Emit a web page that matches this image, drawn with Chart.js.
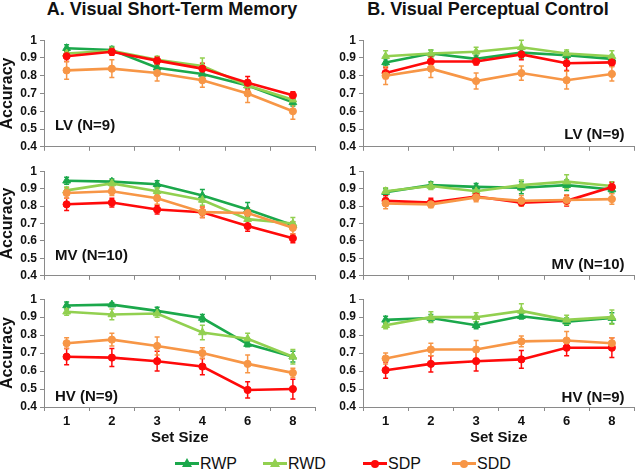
<!DOCTYPE html>
<html><head><meta charset="utf-8">
<script src="https://cdn.jsdelivr.net/npm/chart.js@4/dist/chart.umd.min.js"></script>
<style>
body{margin:0;width:640px;height:476px;background:#fff;position:relative;overflow:hidden;font-family:"Liberation Sans",Arial,sans-serif;color:#111;}
.title{position:absolute;top:-1px;font-weight:bold;font-size:18px;line-height:20px;white-space:nowrap;transform:translateX(-50%);}
canvas{position:absolute;}
.lg{position:absolute;top:454px;height:20px;font-size:16px;line-height:20px;white-space:nowrap;}
.lg .ln{position:absolute;left:0;top:8px;width:24px;height:3px;}
.lg .mk{position:absolute;}
.lg .tx{position:absolute;left:25px;top:0;}
</style></head>
<body>
<div class="title" style="left:172px">A. Visual Short-Term Memory</div>
<div class="title" style="left:488px">B. Visual Perceptual Control</div>
<canvas id="c1"></canvas><canvas id="c2"></canvas><canvas id="c3"></canvas>
<canvas id="c4"></canvas><canvas id="c5"></canvas><canvas id="c6"></canvas>
<div id="legend"></div>
<script>
// ---- data ----
const setSizes = ['1','2','3','4','6','8'];
const seriesNames = ['RWP','RWD','SDP','SDD'];
const panelLabels = ['LV (N=9)','MV (N=10)','HV (N=9)'];
const yTicks = [0.4,0.5,0.6,0.7,0.8,0.9,1];

// A. Visual Short-Term Memory
const stmLV_RWP = [0.955,0.945,0.845,0.81,0.745,0.65];
const stmLV_RWD = [0.925,0.94,0.89,0.855,0.745,0.665];
const stmLV_SDP = [0.91,0.935,0.885,0.84,0.76,0.69];
const stmLV_SDD = [0.83,0.84,0.815,0.775,0.70,0.60];
const stmMV_RWP = [0.945,0.94,0.925,0.86,0.78,0.69];
const stmMV_RWD = [0.89,0.93,0.885,0.835,0.725,0.70];
const stmMV_SDP = [0.81,0.82,0.78,0.765,0.685,0.615];
const stmMV_SDD = [0.875,0.885,0.845,0.765,0.76,0.675];
const stmHV_RWP = [0.965,0.97,0.935,0.895,0.75,0.68];
const stmHV_RWD = [0.93,0.915,0.92,0.815,0.78,0.68];
const stmHV_SDP = [0.68,0.675,0.655,0.625,0.495,0.50];
const stmHV_SDD = [0.755,0.775,0.74,0.70,0.64,0.59];
// B. Visual Perceptual Control
const pcLV_RWP = [0.875,0.925,0.895,0.93,0.915,0.895];
const pcLV_RWD = [0.91,0.925,0.935,0.96,0.925,0.91];
const pcLV_SDP = [0.815,0.88,0.88,0.92,0.87,0.875];
const pcLV_SDD = [0.80,0.84,0.77,0.815,0.775,0.81];
const pcMV_RWP = [0.88,0.92,0.91,0.905,0.92,0.895];
const pcMV_RWD = [0.885,0.915,0.885,0.92,0.94,0.915];
const pcMV_SDP = [0.83,0.82,0.855,0.82,0.83,0.91];
const pcMV_SDD = [0.815,0.81,0.85,0.83,0.835,0.84];
const pcHV_RWP = [0.885,0.895,0.855,0.905,0.875,0.895];
const pcHV_RWD = [0.855,0.90,0.90,0.935,0.885,0.90];
const pcHV_SDP = [0.605,0.64,0.655,0.665,0.73,0.73];
const pcHV_SDD = [0.67,0.72,0.72,0.765,0.77,0.755];

// error bar half-lengths
const errStmLV_RWP=[0.02,0.02,0.02,0.02,0.03,0.02], errStmLV_RWD=[0.02,0.02,0.02,0.045,0.03,0.03], errStmLV_SDP=[0.03,0.02,0.02,0.03,0.035,0.02], errStmLV_SDD=[0.05,0.05,0.045,0.04,0.05,0.045];
const errStmMV_RWP=[0.02,0.015,0.02,0.035,0.04,0.02], errStmMV_RWD=[0.02,0.02,0.02,0.03,0.03,0.035], errStmMV_SDP=[0.035,0.025,0.025,0.03,0.03,0.025], errStmMV_SDD=[0.03,0.025,0.035,0.03,0.03,0.035];
const errStmHV_RWP=[0.02,0.01,0.02,0.02,0.015,0.03], errStmHV_RWD=[0.02,0.03,0.02,0.04,0.03,0.04], errStmHV_SDP=[0.045,0.05,0.055,0.045,0.045,0.055], errStmHV_SDD=[0.03,0.035,0.05,0.03,0.05,0.025];
const errPcLV_RWP=[0.02,0.02,0.02,0.03,0.02,0.02], errPcLV_RWD=[0.03,0.02,0.025,0.04,0.02,0.03], errPcLV_SDP=[0.03,0.03,0.02,0.03,0.04,0.02], errPcLV_SDD=[0.05,0.05,0.045,0.04,0.05,0.04];
const errPcMV_RWP=[0.02,0.02,0.02,0.035,0.03,0.02], errPcMV_RWD=[0.02,0.02,0.02,0.03,0.04,0.025], errPcMV_SDP=[0.03,0.025,0.02,0.02,0.03,0.025], errPcMV_SDD=[0.03,0.02,0.025,0.03,0.03,0.03];
const errPcHV_RWP=[0.02,0.02,0.02,0.015,0.02,0.03], errPcHV_RWD=[0.02,0.03,0.025,0.04,0.025,0.04], errPcHV_SDP=[0.045,0.045,0.055,0.05,0.045,0.055], errPcHV_SDD=[0.03,0.035,0.05,0.03,0.05,0.03];

// ---- styles ----
const colors = {RWP:'#1BA84B', RWD:'#92D050', SDP:'#FF0A0A', SDD:'#F79646'};
const markers = {RWP:'triangle', RWD:'triangle', SDP:'circle', SDD:'circle'};
const drawOrder = {RWP:4, RWD:3, SDP:2, SDD:1};

const errorBars = {
  id:'errorBars',
  beforeDatasetsDraw(chart){
    const ctx = chart.ctx, y = chart.scales.y;
    chart.data.datasets.forEach((ds,i)=>{
      const meta = chart.getDatasetMeta(i);
      ctx.save();
      ctx.strokeStyle = ds.borderColor; ctx.lineWidth = 1.5;
      meta.data.forEach((pt,j)=>{
        const e = ds.err[j], v = ds.data[j];
        const y1 = y.getPixelForValue(v+e), y2 = y.getPixelForValue(v-e);
        ctx.beginPath();
        ctx.moveTo(pt.x,y1); ctx.lineTo(pt.x,y2);
        ctx.moveTo(pt.x-2.5,y1); ctx.lineTo(pt.x+2.5,y1);
        ctx.moveTo(pt.x-2.5,y2); ctx.lineTo(pt.x+2.5,y2);
        ctx.stroke();
      });
      ctx.restore();
    });
  }
};
const panelText = {
  id:'panelText',
  afterDatasetsDraw(chart, args, opts){
    const ctx = chart.ctx, a = chart.chartArea;
    ctx.save();
    ctx.font = 'bold 15px "Liberation Sans", Arial, sans-serif';
    ctx.fillStyle = '#111'; ctx.textBaseline = 'middle';
    if (opts.right){ ctx.textAlign='right'; ctx.fillText(opts.text, a.right - 10, a.bottom - opts.dy); }
    else { ctx.textAlign='left'; ctx.fillText(opts.text, a.left + 11, a.bottom - opts.dy); }
    ctx.restore();
  }
};

function makeChart(id, left, top, width, height, vals, errs, opt){
  const cv = document.getElementById(id);
  cv.width = width; cv.height = height;
  cv.style.left = left+'px'; cv.style.top = top+'px';
  const datasets = seriesNames.map((n,k)=>({
    label:n, data:vals[k], err:errs[k],
    borderColor:colors[n], backgroundColor:colors[n],
    pointStyle:markers[n], pointRadius: markers[n]==='triangle'?4.5:3.6,
    pointBorderWidth:1, borderWidth:2.6, tension:0, order:drawOrder[n]
  }));
  return new Chart(cv, {
    type:'line',
    data:{labels:setSizes, datasets},
    plugins:[errorBars, panelText],
    options:{
      responsive:false, animation:false,
      layout:{padding:{top:8,right:2,bottom:opt.bottom?0:2,left:0}},
      plugins:{legend:{display:false}, tooltip:{enabled:false},
        panelText:{text:opt.label, right:opt.right, dy:opt.dy}},
      scales:{
        x:{type:'category', offset:true,
          grid:{offset:true, drawOnChartArea:false, drawTicks:true, tickLength:4, color:'#8a8a8a'},
          border:{color:'#8a8a8a', width:1},
          ticks:{display:opt.bottom, color:'#111', font:{family:'"Liberation Sans", Arial', weight:'bold', size:13}, padding:3, maxRotation:0},
          title:{display:opt.bottom, text:'Set Size', color:'#111', font:{family:'"Liberation Sans", Arial', weight:'bold', size:15}, padding:{top:0,bottom:0}},
          afterFit:s=>{ s.height = opt.bottom ? 40 : 6; }
        },
        y:{min:0.4, max:1,
          afterBuildTicks:s=>{ s.ticks = yTicks.map(v=>({value:v})); },
          grid:{drawOnChartArea:false, drawTicks:true, tickLength:4, color:'#8a8a8a'},
          border:{color:'#8a8a8a', width:1},
          ticks:{color:'#111', font:{family:'"Liberation Sans", Arial', weight:'bold', size:12}, padding:3,
            callback:v=>String(+(+v).toFixed(1))},
          title:{display:opt.ytitle, text:'Accuracy', color:'#111', font:{family:'"Liberation Sans", Arial', weight:'bold', size:16}, padding:{top:-2,bottom:0}},
          afterFit:s=>{ s.width = opt.ywidth; }
        }
      }
    }
  });
}

// panel geometry
makeChart('c1', 0, 30, 321, 127, [stmLV_RWP,stmLV_RWD,stmLV_SDP,stmLV_SDD], [errStmLV_RWP,errStmLV_RWD,errStmLV_SDP,errStmLV_SDD], {label:panelLabels[0], right:false, dy:21, bottom:false, ytitle:true, ywidth:44});
makeChart('c2', 0, 161, 321, 125, [stmMV_RWP,stmMV_RWD,stmMV_SDP,stmMV_SDD], [errStmMV_RWP,errStmMV_RWD,errStmMV_SDP,errStmMV_SDD], {label:panelLabels[1], right:false, dy:20, bottom:false, ytitle:true, ywidth:44});
makeChart('c3', 0, 289, 321, 158, [stmHV_RWP,stmHV_RWD,stmHV_SDP,stmHV_SDD], [errStmHV_RWP,errStmHV_RWD,errStmHV_SDP,errStmHV_SDD], {label:panelLabels[2], right:false, dy:10, bottom:true, ytitle:true, ywidth:44});
makeChart('c4', 320, 30, 320, 127, [pcLV_RWP,pcLV_RWD,pcLV_SDP,pcLV_SDD], [errPcLV_RWP,errPcLV_RWD,errPcLV_SDP,errPcLV_SDD], {label:panelLabels[0], right:true, dy:12, bottom:false, ytitle:false, ywidth:43});
makeChart('c5', 320, 161, 320, 125, [pcMV_RWP,pcMV_RWD,pcMV_SDP,pcMV_SDD], [errPcMV_RWP,errPcMV_RWD,errPcMV_SDP,errPcMV_SDD], {label:panelLabels[1], right:true, dy:11, bottom:false, ytitle:false, ywidth:43});
makeChart('c6', 320, 289, 320, 158, [pcHV_RWP,pcHV_RWD,pcHV_SDP,pcHV_SDD], [errPcHV_RWP,errPcHV_RWD,errPcHV_SDP,errPcHV_SDD], {label:panelLabels[2], right:true, dy:9, bottom:true, ytitle:false, ywidth:43});

// legend
const legendX = {RWP:175, RWD:263, SDP:363, SDD:452};
const lg = document.getElementById('legend');
seriesNames.forEach(n=>{
  const d = document.createElement('div');
  d.className = 'lg'; d.style.left = legendX[n]+'px';
  const c = colors[n];
  const mk = markers[n]==='triangle'
    ? `<div class="mk" style="left:7px;top:4px;width:0;height:0;border-left:5px solid transparent;border-right:5px solid transparent;border-bottom:9px solid ${c};"></div>`
    : `<div class="mk" style="left:8px;top:6px;width:8px;height:8px;border-radius:50%;background:${c};"></div>`;
  d.innerHTML = `<div class="ln" style="background:${c}"></div>${mk}<div class="tx">${n}</div>`;
  lg.appendChild(d);
});
</script>
</body></html>
